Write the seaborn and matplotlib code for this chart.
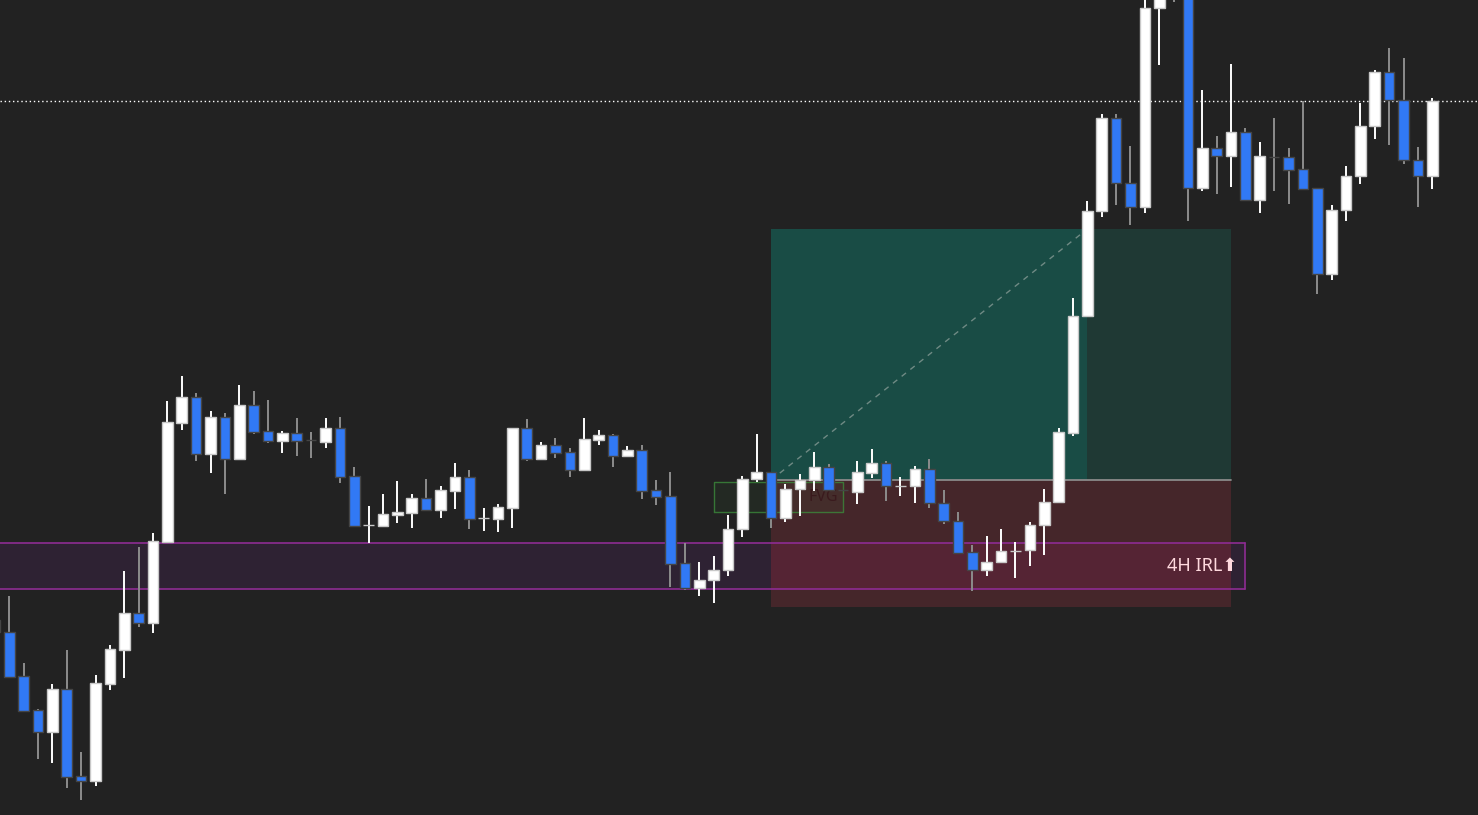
import numpy as np
import pandas as pd
import seaborn as sns
import matplotlib
matplotlib.use("Agg")
import matplotlib.pyplot as plt

# OHLC data, one entry per candle (index -1 is the clipped one at the left edge)
opens = [195, 183, 139, 105, 83, 126, 39, 34, 131, 165, 202, 192, 273, 392, 418, 361, 398, 356, 410, 384,
         374, 382, 375, 373, 387, 339, 290, 289, 300, 302, 317, 305, 324, 338, 297, 296, 307, 387, 356, 370,
         363, 345, 375, 380, 359, 365, 325, 319, 252, 227, 235, 245, 286, 336, 343, 297, 326, 335, 348, 325.4,
         323, 342, 352, 329, 329, 346, 312, 294, 263, 245, 253, 264, 265, 290, 313, 382, 499, 604, 697, 632,
         608, 807, 855, 835, 627, 667, 659, 683, 615, 658.4, 658, 646, 627, 541, 605, 639, 689, 743, 715, 655,
         639]
highs = [200, 219, 152, 106, 131, 165, 63, 140, 170, 244, 268, 282, 414, 439, 422, 404, 402, 430, 424, 415,
         384, 397, 383, 397, 398, 348, 309, 321, 334, 321, 336, 329, 352, 345, 307, 311, 387, 396, 373, 377,
         367, 397, 385, 381, 369, 370, 335, 343, 272, 253, 259, 300, 339, 381, 343, 331, 341, 363, 351, 325.4,
         354, 366, 354, 338, 349, 356, 325, 303, 270, 279, 286, 273, 293, 326, 387, 517, 614, 701, 701, 669,
         820, 840, 865, 845, 725, 679, 751, 687, 673, 697, 667, 714, 627, 610, 649, 712, 745, 767, 757, 668,
         717]
lows = [180, 138, 103, 56, 52, 27, 15, 29, 125, 137, 188, 182, 273, 385, 354, 342, 321, 356, 381, 372,
        362, 359, 357, 367, 332, 289, 272, 288, 292, 287, 304, 297, 306, 286, 284, 283, 287, 354, 356, 357,
        338, 345, 370, 348, 359, 316, 310, 228, 225, 219, 212, 239, 278, 333, 287, 293, 299, 324, 325, 325,
        311, 337, 314, 319, 312, 307, 291, 261, 224, 239, 253, 237, 249, 260, 313, 379, 499, 598, 610, 590,
        602, 750, 813, 594, 624, 621, 628, 614, 602, 624, 611, 626, 521, 535, 594, 631, 676, 670, 651, 608,
        626]
closes = [183, 138, 104, 83, 126, 38, 34, 132, 166, 202, 192, 274, 393, 418, 361, 398, 356, 410, 383, 374,
          382, 374, 374.6, 387, 338, 289, 290, 301, 303, 317, 305, 325, 338, 296, 297, 308, 387, 356, 370, 362,
          345, 376, 380, 359, 365, 324, 318, 251, 227, 235, 245, 286, 336, 343, 297, 326, 335, 348, 325, 325,
          343, 352, 329, 329, 346, 312, 294, 262, 245, 253, 264, 264, 290, 313, 383, 499, 604, 697, 632, 608,
          807, 830, 825, 627, 667, 659, 683, 615, 659, 658, 645, 626, 541, 605, 639, 689, 743, 715, 655, 639,
          714]
candle_idx = np.arange(-1, len(opens) - 1)

# levels drawn on the chart
dotted_level = 714
irl_top, irl_bottom, irl_end = 272, 226, 86
entry_price, target_price, stop_price = 335, 586, 208
pos_start, pos_hit, pos_end = 53, 75, 85
fvg_top, fvg_bottom, fvg_start, fvg_end = 333, 303, 49, 58

BG = "#222222"
sns.set_theme(style="dark", rc={"axes.facecolor": BG, "figure.facecolor": BG})
plt.rcParams["font.family"] = ["Noto Sans", "DejaVu Sans"]

df = pd.DataFrame({"i": candle_idx, "open": opens, "high": highs, "low": lows, "close": closes})
df["bull"] = df["close"] >= df["open"]

fig = plt.figure(figsize=(14.78, 8.15), dpi=100)
ax = fig.add_axes([0, 0, 1, 1])
x_left, x_right = -0.647, 102.18
ax.set_xlim(x_left, x_right)
ax.set_ylim(0, 815)
ax.set_axis_off()

# long position tool: target / stop zones
ax.fill_between([pos_start, pos_hit], entry_price, target_price, color="#194c45", lw=0, zorder=1)
ax.fill_between([pos_hit, pos_end], entry_price, target_price, color="#1f3934", lw=0, zorder=1)
ax.fill_between([pos_start, pos_end], stop_price, entry_price, color="#45262a", lw=0, zorder=1)
ax.plot([pos_start, pos_end], [entry_price, entry_price], color="#8a8a8a", lw=1.3, zorder=2)
sns.lineplot(x=[pos_start, pos_hit], y=[entry_price, target_price], ax=ax, color="#6f8a84",
             lw=1.0, linestyle=(0, (4, 4)), zorder=2)

# 4H IRL band
ax.fill_between([x_left, irl_end], irl_bottom, irl_top, color="#2e2233", lw=0, zorder=2)
ax.fill_between([pos_start, pos_end], irl_bottom, irl_top, color="#552434", lw=0, zorder=2)
for lvl in (irl_top, irl_bottom):
    ax.plot([x_left, irl_end], [lvl, lvl], color="#8e2c93", lw=1.2, zorder=2)
ax.plot([irl_end, irl_end], [irl_bottom, irl_top], color="#8e2c93", lw=1.2, zorder=2)
ax.text(pos_end + 0.45, (irl_top + irl_bottom) / 2, "4H IRL\u2B06", color="#ffd9de", fontsize=13,
        ha="right", va="center", zorder=5)

# FVG box
ax.fill_between([fvg_start, fvg_end], fvg_bottom, fvg_top, color="#3c8c3c", alpha=0.07, lw=0, zorder=2)
ax.plot([fvg_start, fvg_end, fvg_end, fvg_start, fvg_start],
        [fvg_bottom, fvg_bottom, fvg_top, fvg_top, fvg_bottom], color="#3b8a3b", lw=1.0, alpha=0.8, zorder=2)
ax.text(fvg_end - 0.35, (fvg_top + fvg_bottom) / 2, "FVG", color="#3a1a1d", fontsize=11.5,
        ha="right", va="center", zorder=3)

# dotted level
ax.axhline(dotted_level, color="white", lw=1.0, linestyle=(0, (1, 2)), zorder=3)

# candles
bull = df[df["bull"]]
bear = df[~df["bull"]]
ax.vlines(bull["i"], bull["low"], bull["high"], color="#ffffff", lw=1.4, zorder=4)
ax.vlines(bear["i"], bear["low"], bear["high"], color="#8c8c8c", lw=1.4, zorder=4)
w = 0.74
ax.bar(bull["i"], (bull["close"] - bull["open"]).clip(lower=0.4), bottom=bull["open"], width=w,
       color="#ffffff", edgecolor="#c8c8c8", lw=1.0, zorder=5)
ax.bar(bear["i"], (bear["open"] - bear["close"]).clip(lower=0.4), bottom=bear["close"], width=w,
       color="#3179f5", edgecolor="#454545", lw=1.0, zorder=5)

fig.savefig("out.png", dpi=100, facecolor=BG)
